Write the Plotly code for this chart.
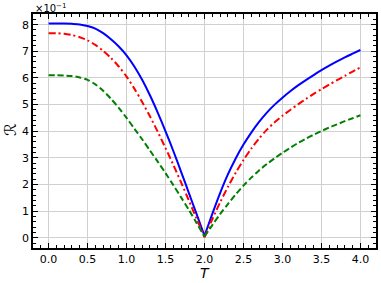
import plotly.graph_objects as go

T = [0.0, 0.1, 0.2, 0.3, 0.4, 0.5, 0.6, 0.7, 0.8, 0.9, 1.0, 1.1, 1.2, 1.3, 1.4, 1.5, 1.6, 1.7, 1.8, 1.9, 2.0,
     2.1, 2.2, 2.3, 2.4, 2.5, 2.6, 2.7, 2.8, 2.9, 3.0, 3.1, 3.2, 3.3, 3.4, 3.5, 3.6, 3.7, 3.8, 3.9, 4.0]

R_blue = [8.04, 8.04, 8.04, 8.03, 8.01, 7.95, 7.85, 7.68, 7.45, 7.18, 6.85, 6.43, 5.93, 5.35, 4.7, 4.0, 3.26, 2.48, 1.68, 0.88, 0.08,
          0.9, 1.68, 2.38, 2.98, 3.5, 3.95, 4.35, 4.7, 5.0, 5.26, 5.5, 5.72, 5.92, 6.11, 6.29, 6.46, 6.62, 6.77, 6.91, 7.05]

R_red = [7.68, 7.68, 7.66, 7.61, 7.53, 7.41, 7.24, 7.02, 6.75, 6.43, 6.05, 5.6, 5.1, 4.56, 3.98, 3.37, 2.74, 2.08, 1.4, 0.71, 0.02,
         0.7, 1.33, 1.91, 2.44, 2.92, 3.35, 3.73, 4.06, 4.34, 4.58, 4.8, 5.01, 5.21, 5.4, 5.58, 5.75, 5.92, 6.08, 6.24, 6.4]

R_green = [6.1, 6.1, 6.09, 6.07, 6.02, 5.93, 5.76, 5.52, 5.22, 4.88, 4.5, 4.1, 3.7, 3.28, 2.86, 2.43, 1.98, 1.52, 1.05, 0.55, 0.05,
           0.48, 0.89, 1.27, 1.63, 1.96, 2.26, 2.53, 2.77, 2.99, 3.19, 3.38, 3.56, 3.72, 3.87, 4.01, 4.14, 4.26, 4.38, 4.49, 4.6]

x_ticks = [0.0, 0.5, 1.0, 1.5, 2.0, 2.5, 3.0, 3.5, 4.0]
x_ticktext = ["0.0", "0.5", "1.0", "1.5", "2.0", "2.5", "3.0", "3.5", "4.0"]
y_ticks = [0, 1, 2, 3, 4, 5, 6, 7, 8]

# index of the critical point (cusp), curves drawn as two smooth branches meeting there
ic = T.index(2.0)

styles = [
    (R_blue, dict(color="#0000ff", width=2)),
    (R_red, dict(color="#ff0000", width=2, dash="7px,3px,2px,3px")),
    (R_green, dict(color="#008000", width=2, dash="6px,3px")),
]

fig = go.Figure()
for vals, ln in styles:
    fig.add_trace(go.Scatter(x=T[:ic + 1], y=vals[:ic + 1], mode="lines",
                             line=dict(shape="spline", smoothing=0.8, **ln)))
    fig.add_trace(go.Scatter(x=T[ic:], y=vals[ic:], mode="lines",
                             line=dict(shape="spline", smoothing=0.8, **ln)))

axis_common = dict(
    showline=True, linecolor="black", linewidth=1.5, mirror="allticks",
    ticks="inside", ticklen=5, tickwidth=1.2, tickcolor="black",
    showgrid=True, gridcolor="#d0d0d0", gridwidth=1, zeroline=False,
    tickfont=dict(family="DejaVu Sans", size=11, color="black"),
    automargin=False,
)

fig.update_xaxes(
    range=[-0.2, 4.2], tickvals=x_ticks, ticktext=x_ticktext,
    minor=dict(dtick=0.1, tick0=0, ticks="inside", ticklen=3, tickcolor="black", tickwidth=1, showgrid=False),
    **axis_common,
)
fig.update_yaxes(
    range=[-0.38, 8.4], tickvals=y_ticks,
    minor=dict(dtick=0.2, tick0=0, ticks="inside", ticklen=3, tickcolor="black", tickwidth=1, showgrid=False),
    **axis_common,
)

fig.add_annotation(xref="paper", yref="paper", x=0.5, y=-0.105, xanchor="center", yanchor="middle",
                   text="<i>T</i>", showarrow=False,
                   font=dict(family="DejaVu Sans", size=14, color="black"))
fig.add_annotation(xref="paper", yref="paper", x=-0.067, y=0.504, xanchor="center", yanchor="middle",
                   text="ℛ", showarrow=False, textangle=-90,
                   font=dict(family="DejaVu Sans", size=16, color="black"))
fig.add_annotation(xref="paper", yref="paper", x=0, y=1, xanchor="left", yanchor="bottom",
                   text="×10<sup>−1</sup>", showarrow=False,
                   font=dict(family="DejaVu Sans", size=10, color="black"), yshift=-2)

fig.update_layout(
    width=381, height=283,
    margin=dict(l=33, r=5, t=14, b=35),
    paper_bgcolor="white", plot_bgcolor="white",
    showlegend=False,
)

fig.write_html("out.html", config={"displayModeBar": False},
               post_script="document.body.style.margin='0px';document.body.style.overflow='hidden';")
